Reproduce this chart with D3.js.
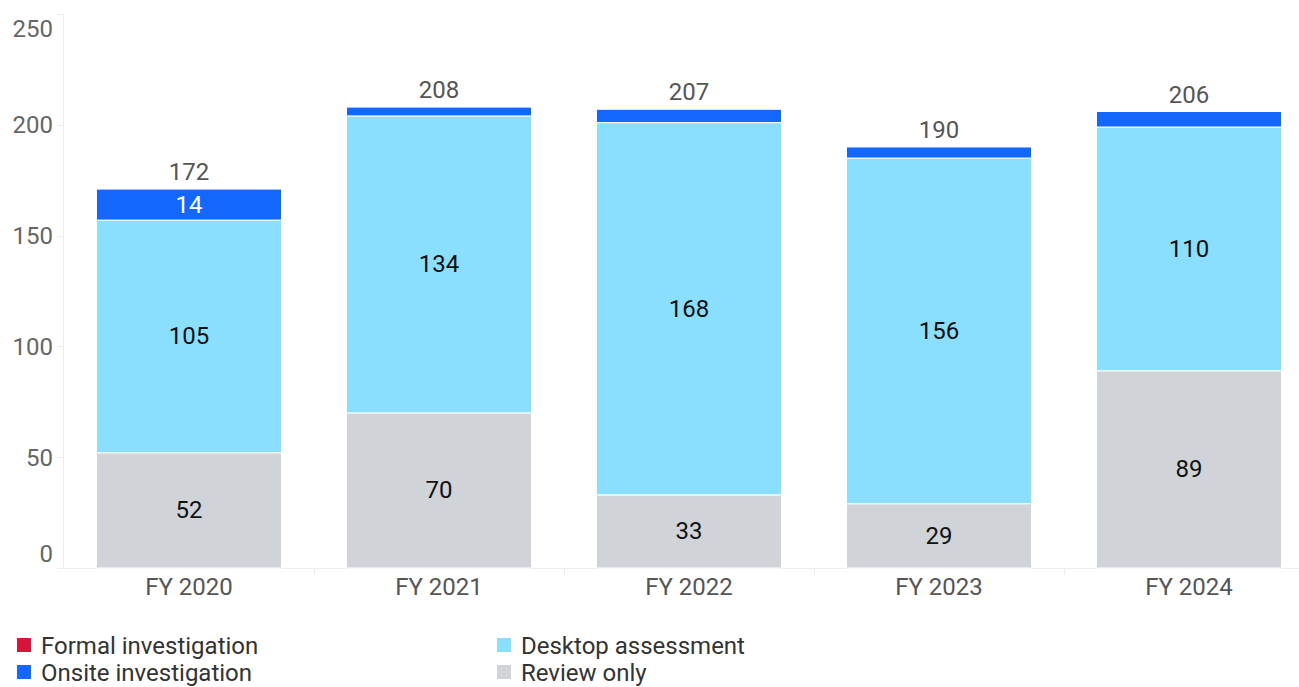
<!DOCTYPE html>
<html>
<head>
<meta charset="utf-8">
<script src="https://cdn.jsdelivr.net/npm/d3@7"></script>
<style>
  body { margin: 0; background: #fff; }
  svg { display: block; font-family: Roboto, "Noto Sans", sans-serif; }
</style>
</head>
<body>
<div id="chart"></div>
<script>
const years = ["FY 2020", "FY 2021", "FY 2022", "FY 2023", "FY 2024"];
const reviewOnly = [52, 70, 33, 29, 89];
const desktop = [105, 134, 168, 156, 110];
const onsite = [14, 4, 6, 5, 7];
const formal = [0, 0, 0, 0, 0];
const totals = [172, 208, 207, 190, 206];
const yTicks = [0, 50, 100, 150, 200, 250];

const series = [
  { key: "review", name: "Review only", values: reviewOnly, color: "#d0d4d8", text: "#111" },
  { key: "desktop", name: "Desktop assessment", values: desktop, color: "#8adfff", text: "#111" },
  { key: "onsite", name: "Onsite investigation", values: onsite, color: "#1467fd", text: "#fff" },
  { key: "formal", name: "Formal investigation", values: formal, color: "#d9143a", text: "#fff" }
];

const w = 1299, h = 687;
const fs = 24;
const svg = d3.select("#chart").append("svg").attr("width", w).attr("height", h);

const xScale = d3.scaleBand().domain(years).range([64, 1314]).paddingInner(0.26).paddingOuter(0.13);
const yScale = d3.scaleLinear().domain([0, 250]).range([568, 14]);

// stack
const table = years.map((y, i) => {
  const row = { year: y };
  series.forEach(s => row[s.key] = s.values[i]);
  return row;
});
const stack = d3.stack().keys(series.map(s => s.key))(table);

// axes lines
svg.append("line").attr("x1", 63.5).attr("x2", 63.5).attr("y1", yScale(250)).attr("y2", 568)
   .attr("stroke", "#ececec");
svg.append("line").attr("x1", 57).attr("x2", w).attr("y1", 568.5).attr("y2", 568.5)
   .attr("stroke", "#ececec");

// y ticks + labels
const yg = svg.append("g");
yTicks.forEach(t => {
  yg.append("line").attr("x1", 57).attr("x2", 63).attr("y1", Math.round(yScale(t)) + 0.5)
    .attr("y2", Math.round(yScale(t)) + 0.5).attr("stroke", "#ececec");
  let dy = 8.5;
  if (t === 250) dy = 22.5;
  if (t === 0) dy = -6.5;
  yg.append("text").attr("x", 53).attr("y", yScale(t) + dy).attr("text-anchor", "end")
    .attr("font-size", fs).attr("fill", "#666").text(t);
});

// x ticks at band boundaries
const step = xScale.step();
years.forEach((y, i) => {
  const bx = Math.round(xScale(y) - xScale.paddingInner() * step / 2 + step) + 0.5;
  if (i < years.length - 1) {
    svg.append("line").attr("x1", bx).attr("x2", bx).attr("y1", 568).attr("y2", 575).attr("stroke", "#ececec");
  }
  svg.append("text").attr("x", xScale(y) + xScale.bandwidth() / 2).attr("y", 595)
     .attr("text-anchor", "middle").attr("font-size", fs).attr("fill", "#555").text(y);
});

// bars
stack.forEach((layer, li) => {
  const s = series[li];
  const g = svg.append("g");
  g.selectAll("rect").data(layer).enter().append("rect")
   .filter(d => d[1] - d[0] > 0)
   .attr("x", d => xScale(d.data.year))
   .attr("y", d => yScale(d[1]))
   .attr("width", xScale.bandwidth())
   .attr("height", d => yScale(d[0]) - yScale(d[1]))
   .attr("fill", s.color)
   .attr("stroke", "#fff").attr("stroke-width", 1);
  g.selectAll("text").data(layer).enter().append("text")
   .filter(d => yScale(d[0]) - yScale(d[1]) > 26)
   .attr("x", d => xScale(d.data.year) + xScale.bandwidth() / 2)
   .attr("y", d => (yScale(d[0]) + yScale(d[1])) / 2 + 8)
   .attr("text-anchor", "middle").attr("font-size", fs).attr("fill", s.text)
   .text(d => d[1] - d[0]);
});

// totals
const topLayer = stack[stack.length - 1];
svg.selectAll(".total").data(topLayer).enter().append("text")
   .attr("class", "total")
   .attr("x", d => xScale(d.data.year) + xScale.bandwidth() / 2)
   .attr("y", d => yScale(d[1]) - 9)
   .attr("text-anchor", "middle").attr("font-size", fs).attr("fill", "#555")
   .text((d, i) => totals[i]);

// legend
const legendItems = [series[3], series[1], series[2], series[0]];
const lg = svg.append("g");
legendItems.forEach((s, i) => {
  const col = i % 2, row = Math.floor(i / 2);
  const lx = col === 0 ? 17 : 497, ly = 645 + row * 27;
  lg.append("rect").attr("x", lx).attr("y", ly - 7).attr("width", 14).attr("height", 14).attr("fill", s.color);
  lg.append("text").attr("x", lx + 24).attr("y", ly + 8.5).attr("font-size", fs).attr("fill", "#333").text(s.name);
});
</script>
</body>
</html>
